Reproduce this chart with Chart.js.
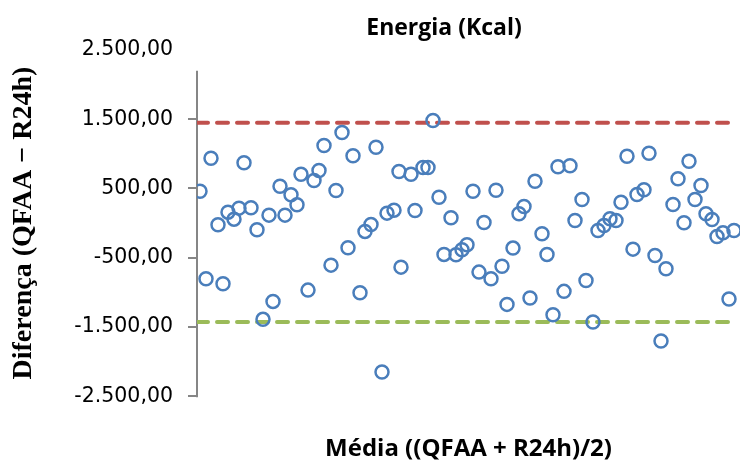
<!DOCTYPE html>
<html>
<head>
<meta charset="utf-8">
<script src="https://cdn.jsdelivr.net/npm/chart.js@4.4.1/dist/chart.umd.min.js"></script>
<style>
  html, body { margin: 0; padding: 0; background: #ffffff; }
  #wrap { width: 740px; height: 464px; }
</style>
</head>
<body>
<div id="wrap"><canvas id="c" width="740" height="464"></canvas></div>
<script>
// ---- data ----
const CHART_TITLE = 'Energia (Kcal)';
const X_TITLE = 'Média ((QFAA + R24h)/2)';
const Y_TITLE = 'Diferença (QFAA − R24h)';

// mean of the two methods (x position, arbitrary units: no x tick labels shown)
const MEAN_X = [3,9,14,21,26,31,37,42,47,54,60,66,72,76,83,88,94,100,104,111,117,122,127,134,139,145,151,156,163,168,174,179,185,190,197,202,204,214,218,226,231,236,242,247,254,259,265,270,276,282,287,294,299,305,310,316,322,327,333,338,345,350,356,361,367,373,378,385,389,396,401,407,413,419,424,430,436,440,447,452,458,464,469,476,481,487,492,498,504,509,515,520,526,532,537];
// difference between the two methods (kcal)
const DIFF_Y = [461,-803,937,-24,-875,158,57,216,871,221,-96,-1390,115,-1131,533,115,409,265,706,-968,615,760,1120,-607,471,1308,-356,972,-1005,-120,-19,1096,-2150,144,187,745,-636,706,183,803,803,1481,374,-452,77,-457,-385,-312,461,-708,9,-803,475,-622,-1174,-361,135,240,-1083,605,-154,-452,-1323,813,-986,828,38,341,-828,-1429,-106,-34,63,38,302,966,-376,413,481,1009,-467,-1703,-659,269,640,6,894,341,543,135,53,-193,-139,-1097,-106];

// limits of agreement
const LIMIT_X = [0, 533];
const UPPER_LIMIT = 1450;
const LOWER_LIMIT = -1430;

// y axis ticks
const Y_MIN = -2500, Y_MAX = 2500, Y_STEP = 1000;
const X_MIN = 0, X_MAX = 543;
const AXIS_TOP_VALUE = 2200; // visible top end of the vertical axis line

function fmtBR(v) {
  const parts = Math.abs(v).toFixed(2).split('.');
  const intPart = parts[0].replace(/\B(?=(\d{3})+(?!\d))/g, '.');
  return (v < 0 ? '-' : '') + intPart + ',' + parts[1];
}

const points = MEAN_X.map((x, i) => ({ x: x, y: DIFF_Y[i] }));
const upperLine = LIMIT_X.map(x => ({ x: x, y: UPPER_LIMIT }));
const lowerLine = LIMIT_X.map(x => ({ x: x, y: LOWER_LIMIT }));

const extraText = {
  id: 'extraText',
  beforeDatasetsDraw(chart) {
    const { ctx, chartArea, scales } = chart;
    const y = scales.y;
    ctx.save();
    ctx.strokeStyle = '#868686';
    ctx.lineWidth = 2;
    ctx.beginPath();
    ctx.moveTo(chartArea.left, y.getPixelForValue(AXIS_TOP_VALUE));
    ctx.lineTo(chartArea.left, y.getPixelForValue(Y_MIN) + 1);
    ctx.stroke();
    ctx.restore();
  },
  afterDraw(chart) {
    const { ctx } = chart;
    ctx.save();
    ctx.fillStyle = '#000000';
    ctx.font = 'bold 23px "Open Sans"';
    ctx.textAlign = 'center';
    ctx.textBaseline = 'alphabetic';
    ctx.fillText(CHART_TITLE, 444, 35);
    ctx.restore();
  }
};

new Chart(document.getElementById('c'), {
  type: 'scatter',
  data: {
    datasets: [
      {
        label: 'Diferença',
        data: points,
        order: 0,
        showLine: false,
        pointStyle: 'circle',
        pointRadius: 6.5,
        pointBorderWidth: 2.5,
        pointBorderColor: '#4a7ebb',
        pointBackgroundColor: 'rgba(0,0,0,0)',
        borderColor: '#4a7ebb',
        backgroundColor: 'rgba(0,0,0,0)'
      },
      {
        label: 'Limite superior',
        data: upperLine,
        order: 1,
        showLine: true,
        borderColor: '#c0504d',
        borderWidth: 4,
        borderDash: [11, 9],
        borderCapStyle: 'round',
        pointRadius: 0,
        fill: false
      },
      {
        label: 'Limite inferior',
        data: lowerLine,
        order: 1,
        showLine: true,
        borderColor: '#9bbb59',
        borderWidth: 4,
        borderDash: [11, 9],
        borderCapStyle: 'round',
        pointRadius: 0,
        fill: false
      }
    ]
  },
  options: {
    responsive: false,
    animation: false,
    layout: { autoPadding: false, padding: { top: 50, right: 0, bottom: 0, left: 0 } },
    plugins: {
      legend: { display: false },
      tooltip: { enabled: false },
      title: { display: false }
    },
    scales: {
      x: {
        type: 'linear',
        min: X_MIN,
        max: X_MAX,
        ticks: { display: false },
        grid: { display: false, drawTicks: false },
        border: { display: false },
        title: {
          display: true,
          text: X_TITLE,
          color: '#000000',
          font: { family: '"Open Sans"', weight: 'bold', size: 24 },
          padding: { top: 39, bottom: 0 }
        }
      },
      y: {
        type: 'linear',
        min: Y_MIN,
        max: Y_MAX,
        afterFit(scale) { scale.width = 197; },
        ticks: {
          stepSize: Y_STEP,
          color: '#000000',
          padding: 15,
          font: { family: '"DejaVu Sans"', size: 20.5 },
          callback: (v) => fmtBR(v)
        },
        grid: {
          display: true,
          drawOnChartArea: false,
          drawTicks: true,
          tickLength: 9,
          lineWidth: 2,
          color: (ctx) => (ctx.tick && ctx.tick.value === Y_MAX) ? 'rgba(0,0,0,0)' : '#868686'
        },
        border: { display: false },
        title: {
          display: true,
          text: Y_TITLE,
          color: '#000000',
          font: { family: '"Liberation Serif"', weight: 'bold', size: 28 },
          padding: { top: 7, bottom: 0 }
        }
      }
    }
  },
  plugins: [extraText]
});
</script>
</body>
</html>
